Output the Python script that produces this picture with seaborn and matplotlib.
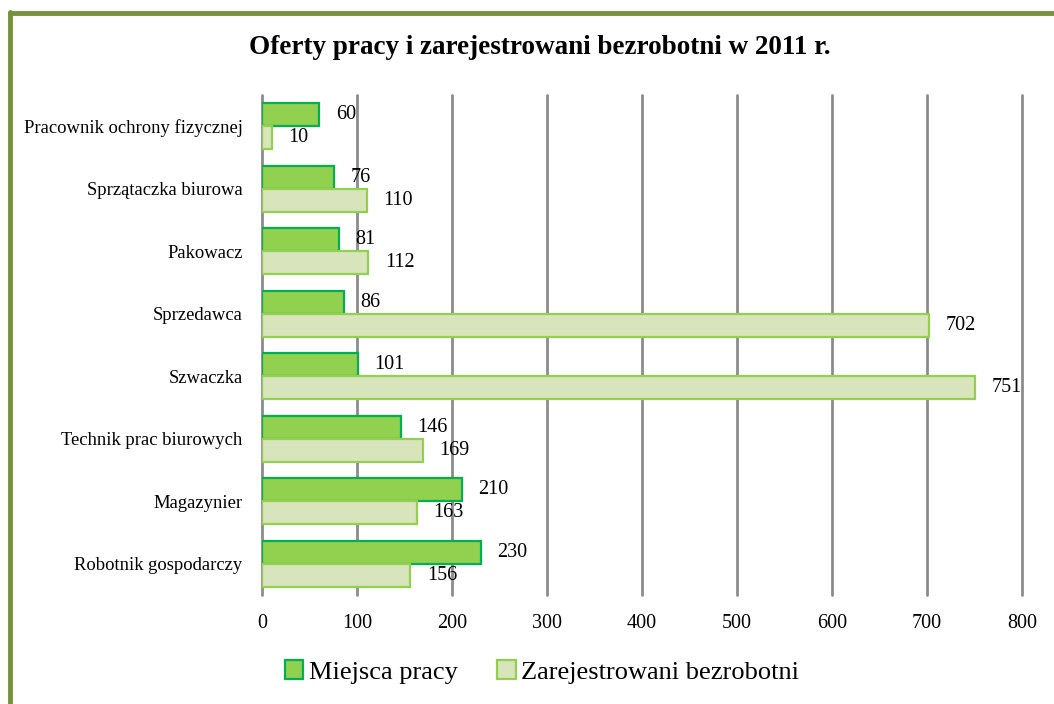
import matplotlib
matplotlib.use("Agg")
import matplotlib.pyplot as plt
import seaborn as sns
import pandas as pd
from matplotlib.patches import Patch
from matplotlib.lines import Line2D

categories = [
    "Pracownik ochrony fizycznej",
    "Sprzątaczka biurowa",
    "Pakowacz",
    "Sprzedawca",
    "Szwaczka",
    "Technik prac biurowych",
    "Magazynier",
    "Robotnik gospodarczy",
]
miejsca_pracy = [60, 76, 81, 86, 101, 146, 210, 230]
bezrobotni = [10, 110, 112, 702, 751, 169, 163, 156]
series_names = ["Miejsca pracy", "Zarejestrowani bezrobotni"]
x_ticks = [0, 100, 200, 300, 400, 500, 600, 700, 800]
title = "Oferty pracy i zarejestrowani bezrobotni w 2011 r."

df = pd.DataFrame({
    "kat": categories * 2,
    "val": miejsca_pracy + bezrobotni,
    "ser": [series_names[0]] * len(categories) + [series_names[1]] * len(categories),
})

sns.set_theme(style="white")
plt.rcParams["font.family"] = ["Liberation Serif", "DejaVu Serif"]
plt.rcParams["text.color"] = "black"
plt.rcParams["xtick.color"] = "black"
plt.rcParams["ytick.color"] = "black"

fills = {series_names[0]: "#92D050", series_names[1]: "#D8E4BC"}
edges = {series_names[0]: "#00B050", series_names[1]: "#92D050"}

fig = plt.figure(figsize=(10.54, 7.04), dpi=100)
ax = fig.add_axes([262 / 1054, 1 - 595 / 704, (1022 - 262) / 1054, (595 - 95) / 704])

sns.barplot(data=df, y="kat", x="val", hue="ser", order=categories,
            hue_order=series_names, palette=fills, orient="h", saturation=1,
            width=0.74, ax=ax, legend=False, zorder=3)

for cont, name in zip(ax.containers, series_names):
    for p in cont:
        p.set_edgecolor(edges[name])
        p.set_linewidth(1.6)
    ax.bar_label(cont, padding=12, fontsize=14.5, color="black")

ax.set_xlim(0, 800)
ax.set_ylim(len(categories) - 0.5, -0.5)
ax.set_xticks(x_ticks)
ax.set_xticklabels([str(t) for t in x_ticks], fontsize=14.5)
ax.tick_params(axis="x", pad=14, length=0)
ax.tick_params(axis="y", pad=14, length=0, labelsize=13.4)
ax.set_xlabel("")
ax.set_ylabel("")
ax.xaxis.grid(True, color="#8c8c8c", linewidth=2, zorder=0)
ax.yaxis.grid(False)
ax.set_axisbelow(True)
for gl in ax.get_xgridlines():
    gl.set_clip_on(False)
for s in ax.spines.values():
    s.set_visible(False)

fig.text(540 / 1054, 1 - 48 / 704, title, ha="center", va="center",
         fontsize=19.5, fontweight="bold")

handles = [Patch(facecolor=fills[n], edgecolor=edges[n], linewidth=1.6) for n in series_names]
fig.legend(handles, series_names, loc="center", bbox_to_anchor=(542 / 1054, 1 - 672 / 704),
           ncol=2, frameon=False, fontsize=19, handlelength=0.7, handleheight=0.7,
           handletextpad=0.2, columnspacing=1.5)

# frame lines (top and left)
fig.add_artist(Line2D([10 / 1054, 10 / 1054], [0, 1 - 12 / 704], transform=fig.transFigure,
                      color="#76923C", linewidth=3.5))
fig.add_artist(Line2D([10 / 1054, 1], [1 - 13 / 704, 1 - 13 / 704], transform=fig.transFigure,
                      color="#76923C", linewidth=3.5))

fig.savefig("out.png", dpi=100, facecolor="white")
